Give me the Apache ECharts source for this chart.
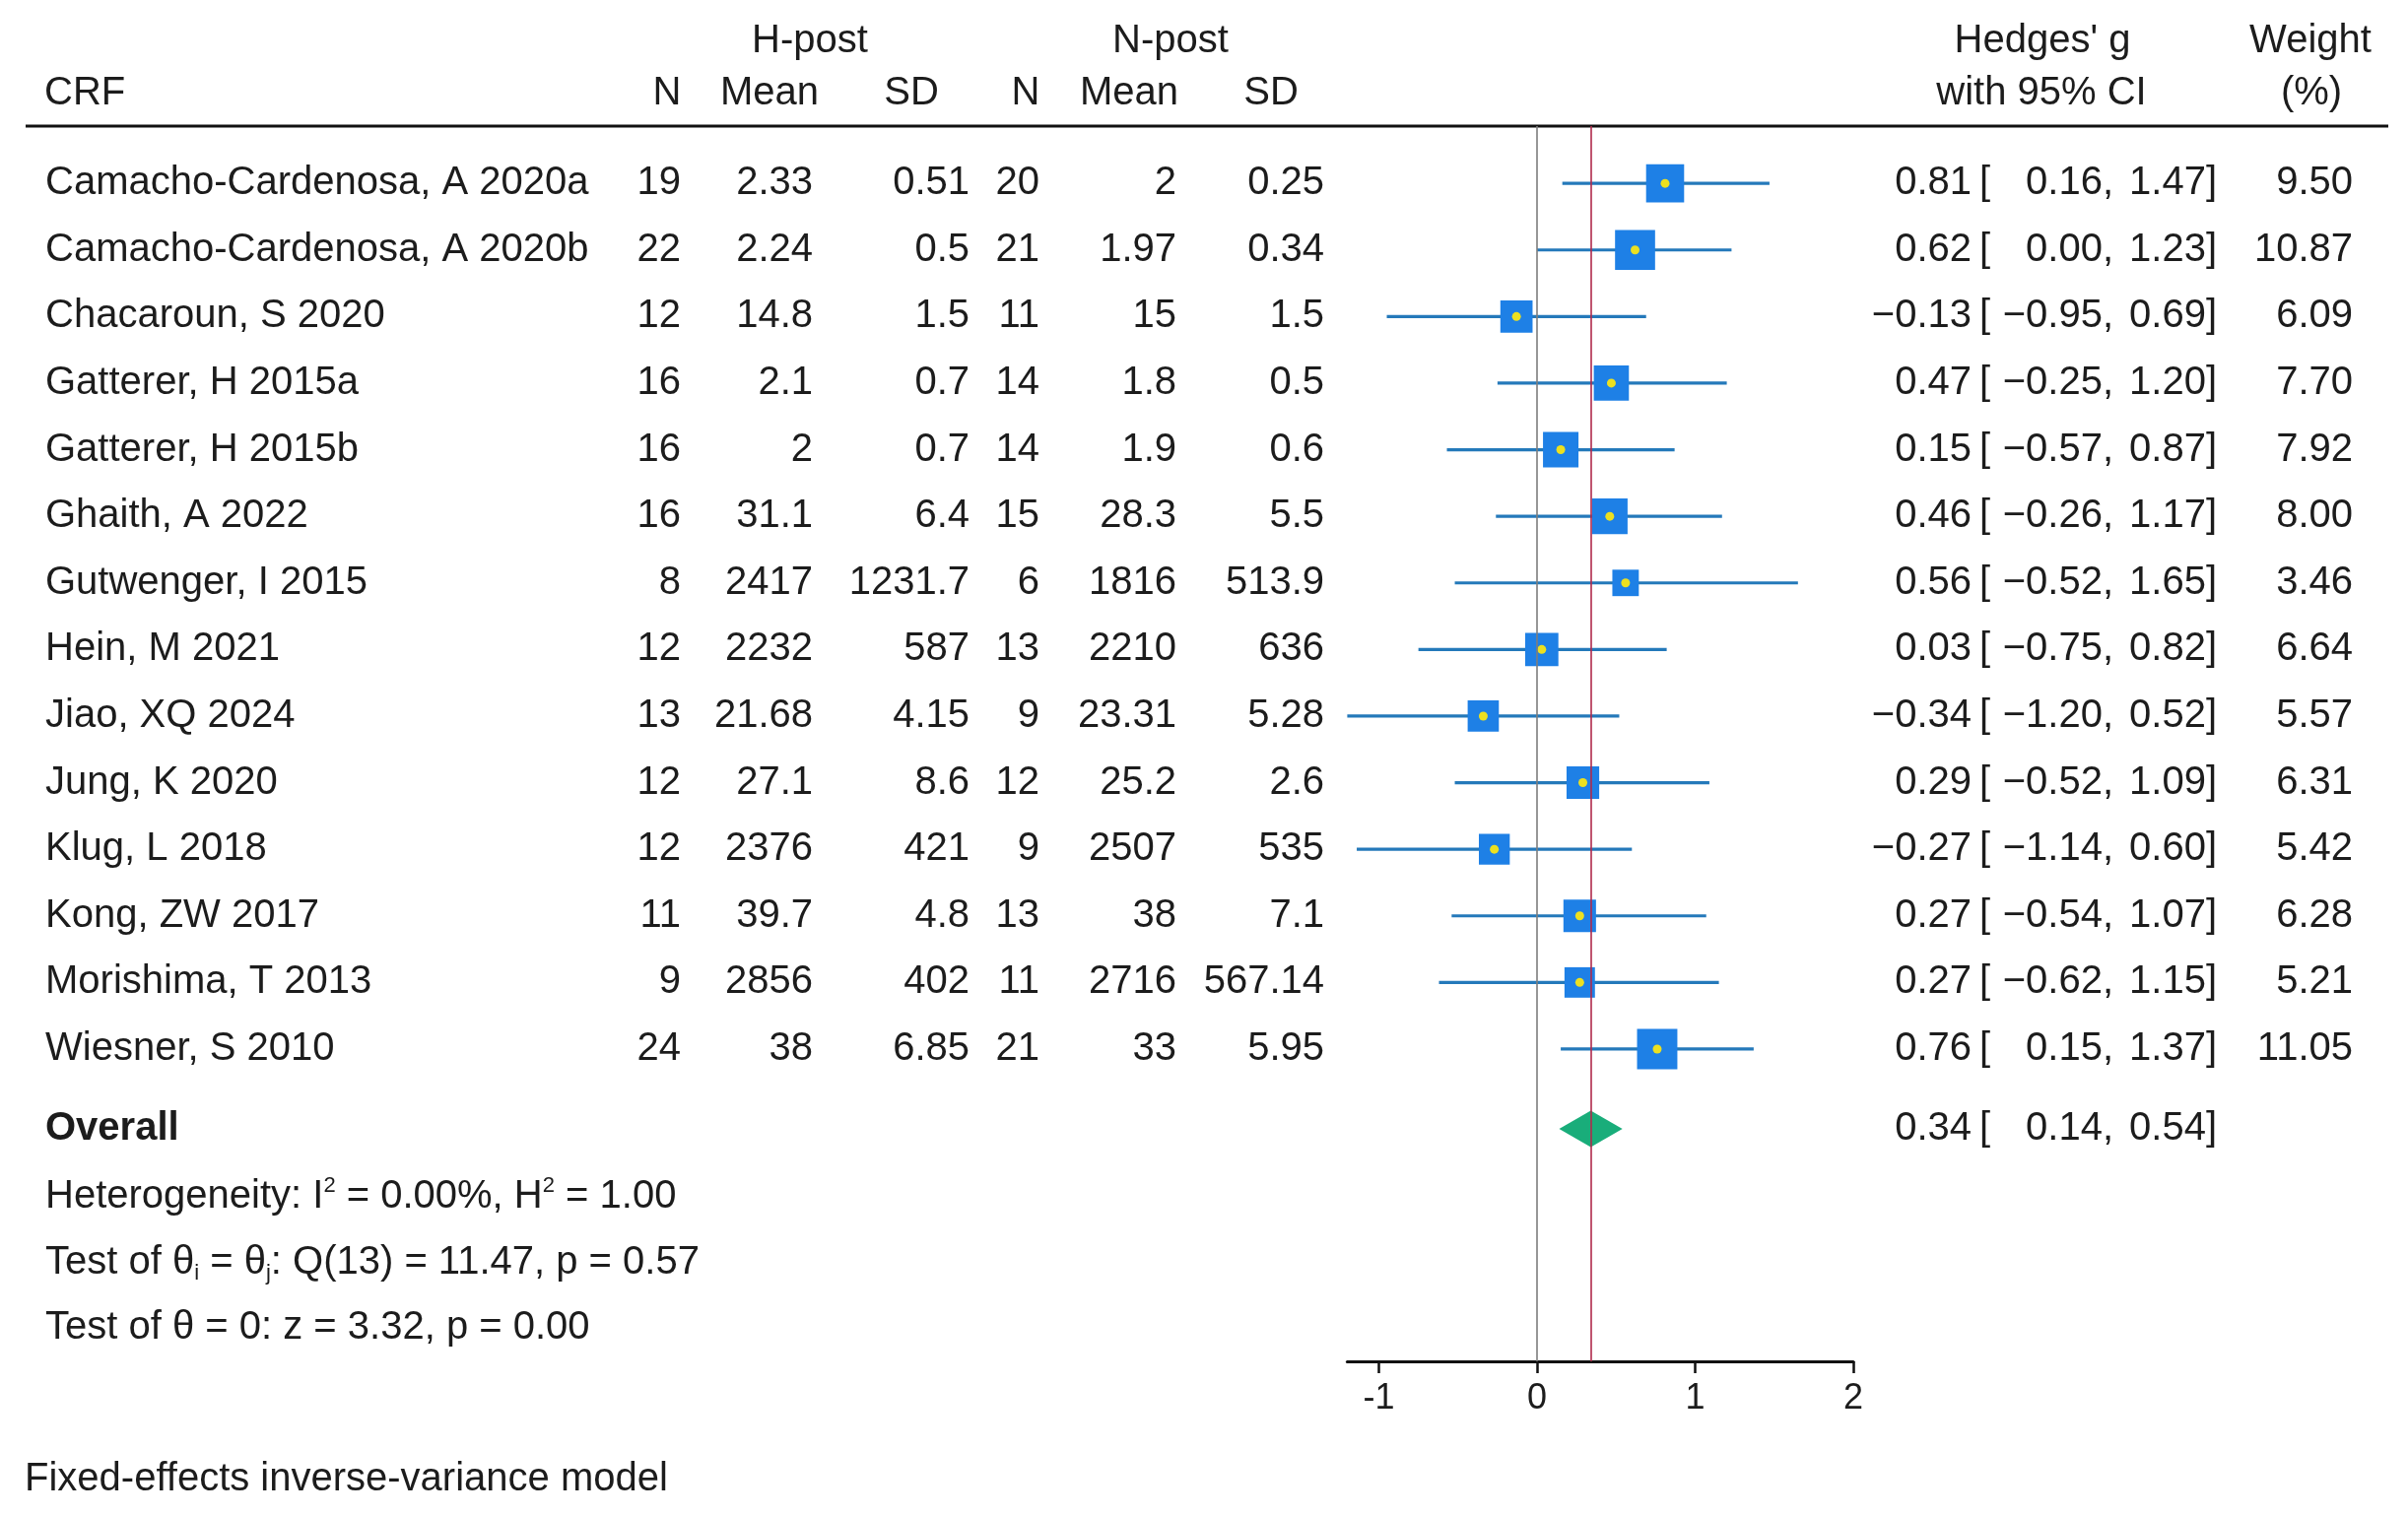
<!DOCTYPE html>
<html><head><meta charset="utf-8">
<script src="https://cdn.jsdelivr.net/npm/echarts@6/dist/echarts.min.js"></script>
<style>html,body{margin:0;padding:0;background:#fff}#c{width:2444px;height:1539px}</style>
</head><body><div id="c"></div>
<script>
// ---------- data ----------
const studies = ["Camacho-Cardenosa, A 2020a","Camacho-Cardenosa, A 2020b","Chacaroun, S 2020","Gatterer, H 2015a","Gatterer, H 2015b","Ghaith, A 2022","Gutwenger, I 2015","Hein, M 2021","Jiao, XQ 2024","Jung, K 2020","Klug, L 2018","Kong, ZW 2017","Morishima, T 2013","Wiesner, S 2010"];
const hN    = [19,22,12,16,16,16,8,12,13,12,12,11,9,24];
const hMean = [2.33,2.24,14.8,2.1,2,31.1,2417,2232,21.68,27.1,2376,39.7,2856,38];
const hSD   = [0.51,0.5,1.5,0.7,0.7,6.4,1231.7,587,4.15,8.6,421,4.8,402,6.85];
const nN    = [20,21,11,14,14,15,6,13,9,12,9,13,11,21];
const nMean = [2,1.97,15,1.8,1.9,28.3,1816,2210,23.31,25.2,2507,38,2716,33];
const nSD   = [0.25,0.34,1.5,0.5,0.6,5.5,513.9,636,5.28,2.6,535,7.1,567.14,5.95];
const g     = [0.81,0.62,-0.13,0.47,0.15,0.46,0.56,0.03,-0.34,0.29,-0.27,0.27,0.27,0.76];
const lo    = [0.16,0.00,-0.95,-0.25,-0.57,-0.26,-0.52,-0.75,-1.20,-0.52,-1.14,-0.54,-0.62,0.15];
const hi    = [1.47,1.23,0.69,1.20,0.87,1.17,1.65,0.82,0.52,1.09,0.60,1.07,1.15,1.37];
const weight= [9.50,10.87,6.09,7.70,7.92,8.00,3.46,6.64,5.57,6.31,5.42,6.28,5.21,11.05];
const overallG = 0.34, overallLo = 0.14, overallHi = 0.54;
const xTicks = [-1,0,1,2];
const statsLines = [
  "Heterogeneity: I{sup|2} = 0.00%, H{sup|2} = 1.00",
  "Test of θ{sub|i} = θ{sub|j}: Q(13) = 11.47, p = 0.57",
  "Test of θ = 0: z = 3.32, p = 0.00"
];
const footnote = "Fixed-effects inverse-variance model";

// ---------- layout / style ----------
const FF = '"Liberation Sans", Arial, Helvetica, sans-serif';
const FS = 40, TXT = '#1c1c1c';
const X_MIN = -1.2, X_MAX = 2, ZERO_PX = 1560, UNIT_PX = 160.5;
const GRID_TOP = 128, GRID_H = 1254, Y_MIN = -0.86, Y_MAX = 17.69;
const rowPos = studies.map((_, i) => i);
const overallRow = 14.2;
const statsRows = [15.22, 16.21, 17.19];

const fmt = v => v.toFixed(2).replace('-', '\u2212');

function textCol(xPx, texts, rows, align, extra) {
  return {
    type: 'custom', xAxisIndex: 1, yAxisIndex: 1, silent: true, z: 5,
    data: texts.map((t, i) => [xPx, rows[i]]),
    renderItem: (params, api) => {
      const p = api.coord([api.value(0), api.value(1)]);
      return { type: 'text', x: p[0], y: p[1],
        style: Object.assign({ text: String(texts[params.dataIndex]), fill: TXT, fontSize: FS, fontFamily: FF,
          align: align, textAlign: align, verticalAlign: 'middle', textVerticalAlign: 'middle' }, extra || {}) };
    }
  };
}

const series = [];
// table columns
series.push(textCol(46, studies, rowPos, 'left'));
series.push(textCol(691, hN, rowPos, 'right'));
series.push(textCol(825, hMean, rowPos, 'right'));
series.push(textCol(984, hSD, rowPos, 'right'));
series.push(textCol(1055, nN, rowPos, 'right'));
series.push(textCol(1194, nMean, rowPos, 'right'));
series.push(textCol(1344, nSD, rowPos, 'right'));
const allRows = rowPos.concat([overallRow]);
series.push(textCol(2001, g.concat([overallG]).map(fmt), allRows, 'right'));
series.push(textCol(2009, allRows.map(() => '['), allRows, 'left'));
series.push(textCol(2145, lo.concat([overallLo]).map(v => fmt(v) + ','), allRows, 'right'));
series.push(textCol(2250, hi.concat([overallHi]).map(v => fmt(v) + ']'), allRows, 'right'));
series.push(textCol(2388, weight.map(v => v.toFixed(2)), rowPos, 'right'));
series.push(textCol(46, ['Overall'], [overallRow], 'left', { fontWeight: 'bold' }));
series.push(textCol(46, statsLines, statsRows, 'left', {
  lineHeight: 44,
  rich: {
    sup: { fontSize: 22, lineHeight: 22, verticalAlign: 'top', fill: TXT, fontFamily: FF },
    sub: { fontSize: 22, lineHeight: 22, verticalAlign: 'bottom', fill: TXT, fontFamily: FF }
  }
}));

// reference lines (zero and overall)
series.push({
  type: 'scatter', xAxisIndex: 0, yAxisIndex: 0, data: [], z: 1, silent: true,
  markLine: { silent: true, symbol: ['none', 'none'], label: { show: false }, animation: false,
    data: [
      { xAxis: 0, lineStyle: { color: '#7d7d7d', width: 1.6, type: 'solid' } },
      { xAxis: overallG, lineStyle: { color: '#b02a4c', width: 1.6, type: 'solid' } }
    ] }
});
// CI lines
series.push({
  type: 'custom', xAxisIndex: 0, yAxisIndex: 0, z: 2, silent: true,
  data: g.map((v, i) => [lo[i], hi[i], rowPos[i]]),
  renderItem: (params, api) => {
    const a = api.coord([api.value(0), api.value(2)]);
    const b = api.coord([api.value(1), api.value(2)]);
    return { type: 'line', shape: { x1: a[0], y1: a[1], x2: b[0], y2: b[1] },
      style: { stroke: '#2479ba', lineWidth: 3.2 } };
  }
});
// weight squares
series.push({
  type: 'scatter', xAxisIndex: 0, yAxisIndex: 0, z: 3, silent: true, symbol: 'rect',
  data: g.map((v, i) => [v, rowPos[i]]),
  symbolSize: (val, params) => 9 + 9.6 * Math.sqrt(weight[params.dataIndex]),
  itemStyle: { color: '#1e80e6', opacity: 1 }
});
// point estimate dots
series.push({
  type: 'scatter', xAxisIndex: 0, yAxisIndex: 0, z: 4, silent: true, symbol: 'circle', symbolSize: 9,
  data: g.map((v, i) => [v, rowPos[i]]),
  itemStyle: { color: '#ece020', opacity: 1 }
});
// overall diamond
series.push({
  type: 'custom', xAxisIndex: 0, yAxisIndex: 0, z: 3, silent: true,
  data: [[overallLo, overallG, overallHi, overallRow]],
  renderItem: (params, api) => {
    const pl = api.coord([api.value(0), api.value(3)]);
    const pc = api.coord([api.value(1), api.value(3)]);
    const ph = api.coord([api.value(2), api.value(3)]);
    const hh = 18.5;
    return { type: 'polygon', shape: { points: [[pl[0], pl[1]], [pc[0], pc[1] - hh], [ph[0], ph[1]], [pc[0], pc[1] + hh]] },
      style: { fill: '#19ad7a' } };
  }
});

function hdr(text, x, y, align) {
  return { type: 'text', x: x, y: y, silent: true,
    style: { text: text, fill: TXT, fontSize: FS, fontFamily: FF, align: align, textAlign: align,
      verticalAlign: 'middle', textVerticalAlign: 'middle' } };
}

const option = {
  animation: false,
  backgroundColor: '#ffffff',
  grid: [
    { left: ZERO_PX + X_MIN * UNIT_PX, width: (X_MAX - X_MIN) * UNIT_PX, top: GRID_TOP, height: GRID_H },
    { left: 0, width: 2444, top: GRID_TOP, height: GRID_H }
  ],
  xAxis: [
    { type: 'value', gridIndex: 0, min: X_MIN, max: X_MAX, position: 'bottom',
      axisLine: { show: true, onZero: false, lineStyle: { color: '#111', width: 3 } },
      axisTick: { show: true, customValues: xTicks, length: 12, inside: false, lineStyle: { color: '#111', width: 2.5 } },
      axisLabel: { show: true, customValues: xTicks, fontSize: 36, color: TXT, fontFamily: FF, margin: 20 },
      splitLine: { show: false } },
    { type: 'value', gridIndex: 1, min: 0, max: 2444, show: false }
  ],
  yAxis: [
    { type: 'value', gridIndex: 0, min: Y_MIN, max: Y_MAX, inverse: true, show: false },
    { type: 'value', gridIndex: 1, min: Y_MIN, max: Y_MAX, inverse: true, show: false }
  ],
  graphic: { elements: [
    hdr('H-post', 822, 42, 'center'),
    hdr('N-post', 1188, 42, 'center'),
    hdr("Hedges' g", 2073, 42, 'center'),
    hdr('Weight', 2345, 42, 'center'),
    hdr('CRF', 45, 95, 'left'),
    hdr('N', 677, 95, 'center'),
    hdr('Mean', 781, 95, 'center'),
    hdr('SD', 925, 95, 'center'),
    hdr('N', 1041, 95, 'center'),
    hdr('Mean', 1146, 95, 'center'),
    hdr('SD', 1290, 95, 'center'),
    hdr('with 95% CI', 2072, 95, 'center'),
    hdr('(%)', 2346, 95, 'center'),
    { type: 'line', silent: true, shape: { x1: 26, y1: 128, x2: 2424, y2: 128 }, style: { stroke: '#111', lineWidth: 3 } },
    hdr(footnote, 25, 1502, 'left')
  ] },
  series: series
};
const chart = echarts.init(document.getElementById('c'));
chart.setOption(option);
</script>
</body></html>
